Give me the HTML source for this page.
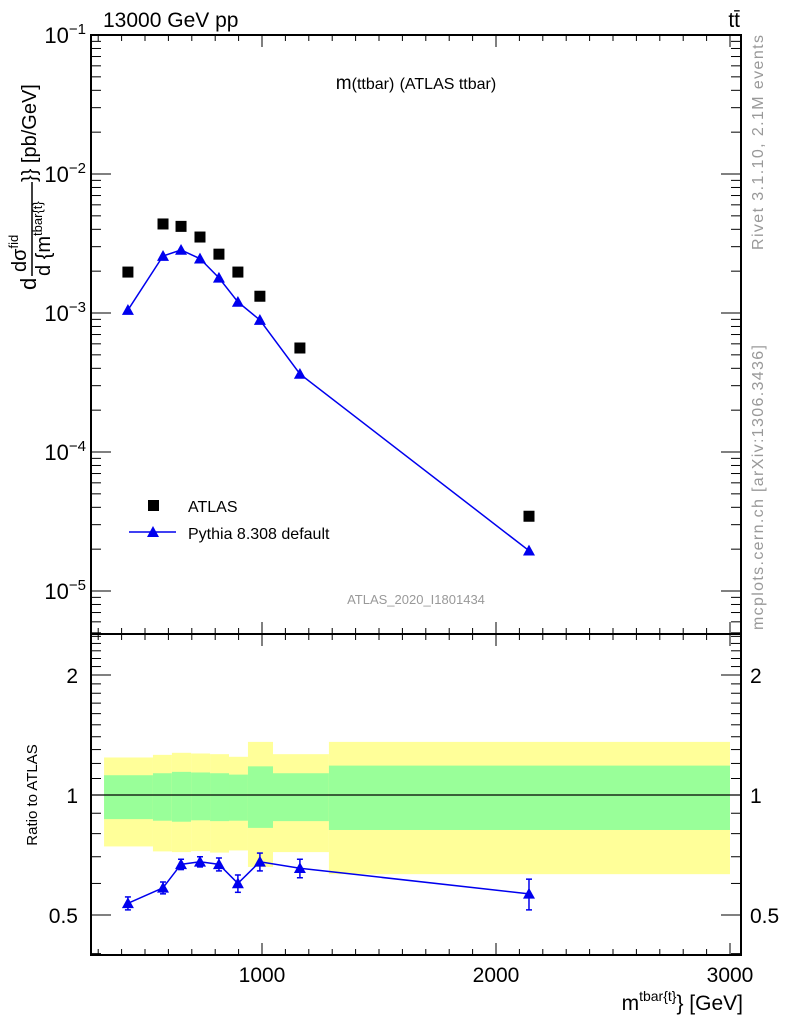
<!DOCTYPE html>
<html><head><meta charset="utf-8"><style>
body{margin:0;background:#fff;}
svg{display:block;font-family:"Liberation Sans",sans-serif;}
</style></head><body>
<svg id="c" width="786" height="1024" viewBox="0 0 786 1024"></svg>
<script>
const binEdges=[325,534,615,697,778,859,940,1047,1286,3000];
const xVals=[427,577,654,735,816,897,991,1162,2141];
const atlasVals=[1.97e-3,4.37e-3,4.2e-3,3.52e-3,2.65e-3,1.97e-3,1.32e-3,5.6e-4,3.45e-5];
const pythiaVals=[1.05e-3,2.57e-3,2.84e-3,2.46e-3,1.79e-3,1.2e-3,8.9e-4,3.64e-4,1.95e-5];
const ratioVals=[0.535,0.585,0.67,0.68,0.67,0.60,0.68,0.655,0.565];
const ratioErr=[0.02,0.02,0.02,0.02,0.025,0.03,0.035,0.035,0.05];
const yellowUp=[1.242,1.261,1.276,1.271,1.266,1.247,1.359,1.266,1.359];
const yellowDn=[0.743,0.722,0.719,0.723,0.717,0.726,0.660,0.719,0.633];
const greenUp=[1.121,1.134,1.143,1.139,1.134,1.125,1.180,1.134,1.185];
const greenDn=[0.870,0.862,0.857,0.864,0.860,0.862,0.827,0.860,0.817];
const xTickLabels=[1000,2000,3000];
const ratioTickLabels=["0.5","1","2"];
const ratioTickVals=[0.5,1,2];

const NS="http://www.w3.org/2000/svg";
const svg=document.getElementById('c');
function el(t,a,p){const e=document.createElementNS(NS,t);for(const k in a)e.setAttribute(k,a[k]);(p||svg).appendChild(e);return e;}
const L=91,R=741,T=35,MB=634,RB=955;
const X=v=>262+(v-1000)*0.234;
const Y=v=>35-(Math.log10(v)+1)*139;
const RY=v=>795-Math.log2(v)*120;

const gB=el('g',{});
for(let i=0;i<binEdges.length-1;i++){
  const x0=X(binEdges[i]),x1=X(binEdges[i+1]);
  const y=el('rect',{x:x0,y:RY(yellowUp[i]),width:x1-x0,height:RY(yellowDn[i])-RY(yellowUp[i]),fill:'#ffff99'},gB);
  
  const g=el('rect',{x:x0,y:RY(greenUp[i]),width:x1-x0,height:RY(greenDn[i])-RY(greenUp[i]),fill:'#99ff99'},gB);
  
}
el('line',{x1:L,x2:R,y1:RY(1),y2:RY(1),stroke:'#000','stroke-width':1.2});

el('rect',{x:L,y:T,width:R-L,height:MB-T,fill:'none',stroke:'#000','stroke-width':2});
el('rect',{x:L,y:MB,width:R-L,height:RB-MB,fill:'none',stroke:'#000','stroke-width':2});

for(let v=300;v<=3000;v+=100){
  const x=X(v),maj=v%1000==0,len=maj?12:6;
  [[T,1],[MB,-1],[MB,1],[RB,-1]].forEach(([y,d])=>el('line',{x1:x,x2:x,y1:y,y2:y+d*len,stroke:'#000','stroke-width':1}));
}
xTickLabels.forEach(v=>{const t=el('text',{x:X(v),y:982,'font-size':21,'text-anchor':'middle'});t.textContent=v;});

for(let d=-6;d<=-1;d++){
  for(let m=1;m<10;m++){
    const v=m*Math.pow(10,d);const y=Y(v);
    if(y<T-0.5||y>MB)continue;
    const len=m==1?20:10;
    el('line',{x1:L,x2:L+len,y1:y,y2:y,stroke:'#000'});
    el('line',{x1:R,x2:R-len,y1:y,y2:y,stroke:'#000'});
    if(m==1){const t=el('text',{x:86,y:y+8,'font-size':22,'text-anchor':'end'});t.innerHTML='10<tspan dy="-9" font-size="15">−'+(-d)+'</tspan>';}
  }
}
[0.4,0.5,0.6,0.7,0.8,0.9,1,1.1,1.2,1.3,1.4,1.5,1.6,1.7,1.8,1.9,2,2.1,2.2,2.3,2.4,2.5].forEach(v=>{
  const y=RY(v);if(y<MB||y>RB)return;
  const maj=[0.5,1,2].includes(v),len=maj?20:10;
  el('line',{x1:L,x2:L+len,y1:y,y2:y,stroke:'#000'});
  el('line',{x1:R,x2:R-len,y1:y,y2:y,stroke:'#000'});
});
ratioTickVals.forEach((v,i)=>{
  const a=el('text',{x:78,y:RY(v)+8,'font-size':21,'text-anchor':'end'});a.textContent=ratioTickLabels[i];
  const b=el('text',{x:750,y:RY(v)+8,'font-size':21});b.textContent=ratioTickLabels[i];
});

const tri=(x,y,s)=>`${x},${y-s} ${x-s},${y+s*0.8} ${x+s},${y+s*0.8}`;
el('polyline',{points:xVals.map((v,i)=>X(v)+','+Y(pythiaVals[i])).join(' '),fill:'none',stroke:'#0000ee','stroke-width':1.5});
xVals.forEach((v,i)=>{
  const s=el('rect',{x:X(v)-5.5,y:Y(atlasVals[i])-5.5,width:11,height:11,fill:'#000'});
  
  const p=el('polygon',{points:tri(X(v),Y(pythiaVals[i]),6),fill:'#0000ee'});
  
});
el('polyline',{points:xVals.map((v,i)=>X(v)+','+RY(ratioVals[i])).join(' '),fill:'none',stroke:'#0000ee','stroke-width':1.5});
xVals.forEach((v,i)=>{
  const x=X(v),y1=RY(ratioVals[i]+ratioErr[i]),y2=RY(ratioVals[i]-ratioErr[i]);
  el('line',{x1:x,x2:x,y1:y1,y2:y2,stroke:'#0000ee','stroke-width':1.5});
  el('line',{x1:x-3,x2:x+3,y1:y1,y2:y1,stroke:'#0000ee','stroke-width':1.5});
  el('line',{x1:x-3,x2:x+3,y1:y2,y2:y2,stroke:'#0000ee','stroke-width':1.5});
  const p=el('polygon',{points:tri(x,RY(ratioVals[i]),6),fill:'#0000ee'});
  
});
</script>
<svg width="786" height="1024" style="position:absolute;left:0;top:0" font-family="Liberation Sans, sans-serif">
<text x="103" y="27" font-size="21">13000 GeV pp</text>
<text x="740" y="27" font-size="21" text-anchor="end">tt̄</text>
<text x="416" y="89" font-size="19" text-anchor="middle">m<tspan font-size="16">(ttbar)</tspan> <tspan font-size="16">(ATLAS ttbar)</tspan></text>
<rect x="148" y="500" width="11" height="11" fill="#000"/>
<text x="188" y="512" font-size="16">ATLAS</text>
<line x1="129" x2="176" y1="532" y2="532" stroke="#0000ee" stroke-width="1.5"/>
<polygon points="153,526 147,537 159,537" fill="#0000ee"/>
<text x="188" y="539" font-size="16">Pythia 8.308 default</text>
<text x="416" y="604" font-size="13" fill="#999" text-anchor="middle">ATLAS_2020_I1801434</text>
<text transform="translate(763,250) rotate(-90)" font-size="16" fill="#999" textLength="215">Rivet 3.1.10,  2.1M events</text>
<text transform="translate(763,630) rotate(-90)" font-size="16" fill="#999" textLength="285">mcplots.cern.ch [arXiv:1306.3436]</text>
<g transform="translate(36,290) rotate(-90)">
<text x="0" y="0" font-size="22">d</text>
<text x="18" y="-10" font-size="20">dσ<tspan dy="-8" font-size="13">fid</tspan></text>
<line x1="14" x2="108" y1="-4" y2="-4" stroke="#000" stroke-width="1.5"/>
<text x="14" y="14" font-size="20">d {m<tspan dy="-8" font-size="13">tbar{t}</tspan></text>
<text x="108" y="0" font-size="20">}} [pb/GeV]</text>
</g>
<text transform="translate(37,795) rotate(-90)" font-size="15" text-anchor="middle">Ratio to ATLAS</text>
<text x="743" y="1010" font-size="21" text-anchor="end">m<tspan dy="-9" font-size="14">tbar{t}</tspan><tspan dy="9">} [GeV]</tspan></text>
</svg>
</body></html>
